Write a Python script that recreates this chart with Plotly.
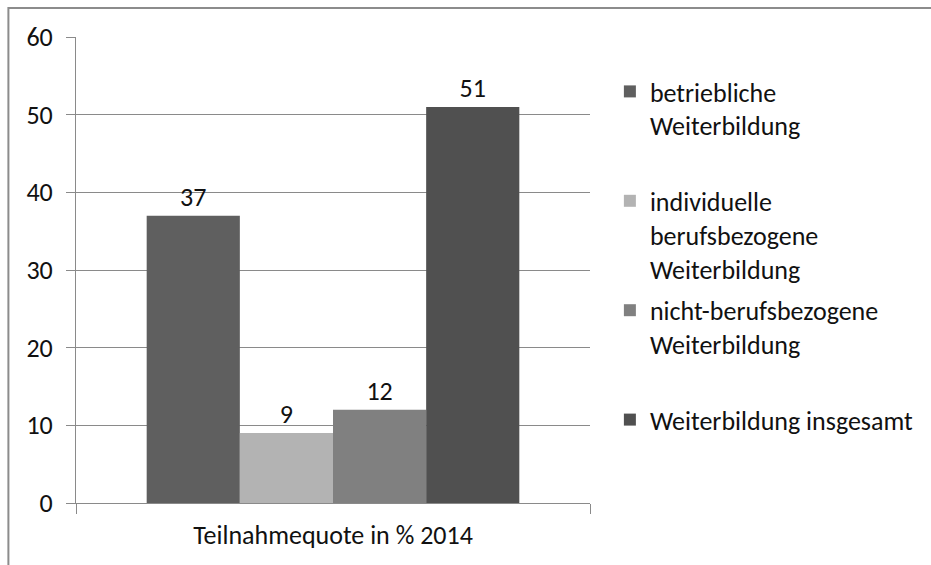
import plotly.graph_objects as go

category = ["Teilnahmequote in % 2014"]
series_names = [
    "betriebliche<br>Weiterbildung<br> ",
    "individuelle<br>berufsbezogene<br>Weiterbildung",
    "nicht-berufsbezogene<br>Weiterbildung<br> ",
    "Weiterbildung insgesamt",
]
series_values = [37, 9, 12, 51]
series_colors = ["#5f5f5f", "#b3b3b3", "#808080", "#505050"]
y_ticks = [0, 10, 20, 30, 40, 50, 60]

FONT = "Carlito, Lato, 'Noto Sans', sans-serif"
FS = 26
TXT = "#111111"
GRID = "#8a8a8a"

fig = go.Figure()
for i, (name, val, col) in enumerate(zip(series_names, series_values, series_colors)):
    fig.add_trace(go.Bar(
        x=category, y=[val], name=name, marker=dict(color=col, line=dict(width=0)),
        text=[val], texttemplate="%{y}", textposition="outside",
        textfont=dict(family=FONT, size=FS, color=TXT),
        cliponaxis=False, legendgroup=f"g{i}",
    ))

W, H = 931, 565
L, R, T, B = 76, 338, 37, 62
pw, ph = W - L - R, H - T - B

fig.update_layout(
    width=W, height=H, autosize=False,
    margin=dict(l=L, r=R, t=T, b=B, pad=0),
    paper_bgcolor="white", plot_bgcolor="white",
    barmode="group", bargap=0.275, bargroupgap=0,
    font=dict(family=FONT, size=FS, color=TXT),
    showlegend=True,
    legend=dict(
        x=(613 - L) / pw, xanchor="left",
        y=(503 - 68) / ph, yanchor="top",
        font=dict(family=FONT, size=FS, color=TXT),
        valign="top", tracegroupgap=5, itemwidth=30,
        bgcolor="rgba(0,0,0,0)",
    ),
    xaxis=dict(
        type="category", showgrid=False, showline=True, linecolor=GRID, linewidth=1,
        ticks="outside", tickson="boundaries", ticklen=10, tickcolor=GRID,
        ticklabelstandoff=9,
        tickfont=dict(family=FONT, size=FS, color=TXT), fixedrange=True,
    ),
    yaxis=dict(
        range=[0, 60], tickvals=y_ticks, showgrid=True, gridcolor=GRID, gridwidth=1,
        showline=True, linecolor=GRID, linewidth=1, zeroline=False,
        ticks="outside", ticklen=9, tickcolor=GRID, ticklabelstandoff=8,
        tickfont=dict(family=FONT, size=FS, color=TXT), fixedrange=True,
    ),
    shapes=[dict(
        type="rect", xref="paper", yref="paper",
        x0=(8 - L) / pw, x1=2.0, y0=-1.0, y1=(503 - 8) / ph,
        line=dict(color="#8c8c8c", width=2), fillcolor="rgba(0,0,0,0)", layer="below",
    )],
)

fig.write_html(
    "out.html",
    config={"displayModeBar": False, "staticPlot": True},
    post_script="document.body.style.margin='0';document.body.style.overflow='hidden';",
)
